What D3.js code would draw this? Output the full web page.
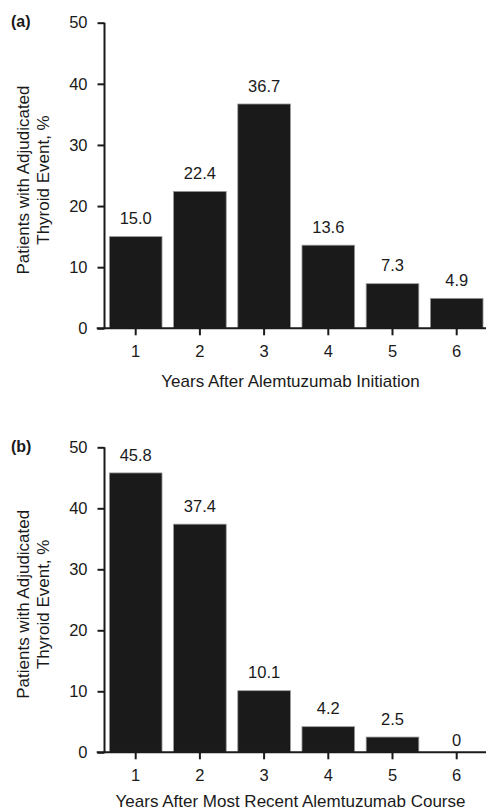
<!DOCTYPE html>
<html>
<head>
<meta charset="utf-8">
<script src="https://cdn.jsdelivr.net/npm/d3@7"></script>
<style>
  html, body { margin: 0; padding: 0; background: #fff; }
  svg { display: block; font-family: "Liberation Sans", Arial, Helvetica, sans-serif; }
</style>
</head>
<body>
<svg id="chart" width="486" height="811"></svg>
<script>
const years = ["1", "2", "3", "4", "5", "6"];
const valuesA = [15.0, 22.4, 36.7, 13.6, 7.3, 4.9];
const valuesB = [45.8, 37.4, 10.1, 4.2, 2.5, 0];
const yTicks = [0, 10, 20, 30, 40, 50];
const panelLabels = ["(a)", "(b)"];
const xTitles = ["Years After Alemtuzumab Initiation", "Years After Most Recent Alemtuzumab Course"];
const yTitleLines = ["Patients with Adjudicated", "Thyroid Event, %"];

const W = 486, H = 811;
const svg = d3.select("#chart");
const axisX = 104.5;
const ink = "#1a1a1a";

const x = d3.scaleBand()
  .domain(years)
  .range([103.6, 103.6 + 6 * 64.2])
  .paddingInner(0.18)
  .paddingOuter(0.09);

function panel(values, top, bottom, label, xTitle) {
  const y = d3.scaleLinear().domain([0, 50]).range([bottom, top]);
  const g = svg.append("g");

  // bars
  g.selectAll("rect.bar")
    .data(values)
    .join("rect")
    .attr("class", "bar")
    .attr("x", (d, i) => x(years[i]))
    .attr("width", x.bandwidth())
    .attr("y", d => y(d))
    .attr("height", d => y(0) - y(d))
    .attr("fill", ink)
    .attr("stroke", "#9a9a9a")
    .attr("stroke-width", 0.8);

  // value labels
  g.selectAll("text.val")
    .data(values)
    .join("text")
    .attr("class", "val")
    .attr("x", (d, i) => x(years[i]) + x.bandwidth() / 2)
    .attr("y", d => y(d) - (d > 0 ? 12.4 : 6))
    .attr("text-anchor", "middle")
    .attr("font-size", 16.5)
    .attr("fill", ink)
    .text(d => d === 0 ? "0" : d.toFixed(1));

  // y axis
  const yAxis = d3.axisLeft(y).tickValues(yTicks).tickSize(7).tickPadding(10).tickFormat(d3.format("d"));
  const ya = g.append("g").attr("transform", `translate(${axisX},0)`).call(yAxis);
  ya.attr("font-family", null);
  ya.select(".domain").attr("d", `M0,${y(50)}V${y(0)}`).attr("stroke", ink).attr("stroke-width", 2);
  ya.selectAll(".tick line").attr("stroke", ink).attr("stroke-width", 2);
  ya.selectAll(".tick text").attr("font-size", 16.5).attr("fill", ink);

  // x axis
  const xAxis = d3.axisBottom(x).tickSize(7).tickPadding(9.5);
  const xa = g.append("g").attr("transform", `translate(0,${y(0)})`).call(xAxis);
  xa.attr("font-family", null);
  xa.select(".domain").attr("d", `M${axisX - 7.8},0H${W}`).attr("stroke", ink).attr("stroke-width", 2);
  xa.selectAll(".tick line").attr("stroke", ink).attr("stroke-width", 2);
  xa.selectAll(".tick text").attr("font-size", 16.5).attr("fill", ink);

  // x title
  g.append("text")
    .attr("x", 290.5)
    .attr("y", Math.min(y(0) + 58.5, H - 4))
    .attr("text-anchor", "middle")
    .attr("font-size", 17)
    .attr("fill", ink)
    .text(xTitle);

  // y title (two lines)
  const cy = (y(0) + y(50)) / 2 + 4.5;
  const yt = g.append("text")
    .attr("transform", `translate(0,${cy}) rotate(-90)`)
    .attr("text-anchor", "middle")
    .attr("font-size", 17)
    .attr("fill", ink);
  yt.append("tspan").attr("x", 0).attr("y", 29).text(yTitleLines[0]);
  yt.append("tspan").attr("x", 0).attr("y", 49).text(yTitleLines[1]);

  // panel label
  g.append("text")
    .attr("x", 11)
    .attr("y", y(50) + 4.5)
    .attr("font-size", 16)
    .attr("font-weight", "bold")
    .attr("fill", ink)
    .text(label);
}

panel(valuesA, 22.7, 328.3, panelLabels[0], xTitles[0]);
panel(valuesB, 447.3, 752.3, panelLabels[1], xTitles[1]);
</script>
</body>
</html>
